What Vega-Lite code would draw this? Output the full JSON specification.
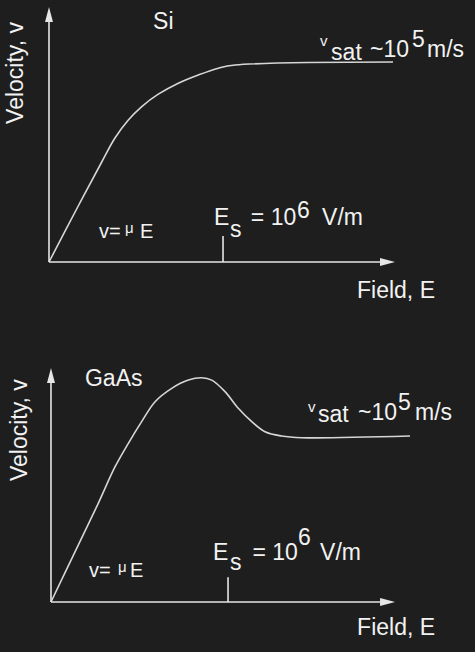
{
  "$schema": "https://vega.github.io/schema/vega-lite/v6.json",
  "background": "#1e1e1e",
  "padding": 0,
  "spacing": 0,
  "config": {"view": {"stroke": null}, "text": {"font": "Liberation Sans", "color": "#f2f2f2"}},
  "datasets": {
    "siCurve": [
      {"E": 0, "v": 0}, {"E": 0.168, "v": 0.28}, {"E": 0.303, "v": 0.5}, {"E": 0.379, "v": 0.62},
      {"E": 0.456, "v": 0.71}, {"E": 0.533, "v": 0.777}, {"E": 0.628, "v": 0.839}, {"E": 0.743, "v": 0.894},
      {"E": 0.858, "v": 0.935}, {"E": 0.973, "v": 0.969}, {"E": 1.069, "v": 0.985}, {"E": 1.977, "v": 1.0}
    ],
    "siAxes": [
      {"x": 0, "y": 0, "x2": 0, "y2": 1.2375},
      {"x": 0, "y": 0, "x2": 1.945, "y2": 0},
      {"x": 1, "y": 0, "x2": 1, "y2": 0.13}
    ],
    "siArrows": [
      {"x": 0, "y": 1.2375, "dir": "up"},
      {"x": 1.945, "y": 0, "dir": "right"}
    ],
    "siText": [
      {"x": 0.598, "y": 1.165, "text": "Si", "kind": "main"},
      {"x": 1.77, "y": -0.18, "text": "Field, E", "kind": "main"},
      {"x": 0.948, "y": 0.185, "text": "E", "kind": "main"},
      {"x": 1.04, "y": 0.125, "text": "s", "kind": "main"},
      {"x": 1.16, "y": 0.185, "text": "= 10", "kind": "main"},
      {"x": 1.425, "y": 0.22, "text": "6", "kind": "main"},
      {"x": 1.569, "y": 0.185, "text": "V/m", "kind": "main"},
      {"x": 1.621, "y": 1.01, "text": "sat", "kind": "main"},
      {"x": 1.845, "y": 1.025, "text": "~10", "kind": "main"},
      {"x": 2.086, "y": 1.075, "text": "5", "kind": "main"},
      {"x": 2.172, "y": 1.025, "text": "m/s", "kind": "main"},
      {"x": 0.287, "y": 0.12, "text": "v=", "kind": "mid"},
      {"x": 0.523, "y": 0.12, "text": "E", "kind": "mid"},
      {"x": 0.437, "y": 0.145, "text": "μ", "kind": "small"},
      {"x": 1.557, "y": 1.08, "text": "v", "kind": "small"},
      {"x": -0.149, "y": 0.945, "text": "Velocity, v", "kind": "rot"}
    ],
    "gaCurve": [
      {"E": 0, "v": 0}, {"E": 0.154, "v": 0.345}, {"E": 0.267, "v": 0.598}, {"E": 0.362, "v": 0.82},
      {"E": 0.437, "v": 0.962}, {"E": 0.512, "v": 1.093}, {"E": 0.588, "v": 1.214}, {"E": 0.682, "v": 1.295},
      {"E": 0.776, "v": 1.345}, {"E": 0.851, "v": 1.359}, {"E": 0.908, "v": 1.345}, {"E": 0.983, "v": 1.275},
      {"E": 1.058, "v": 1.174}, {"E": 1.134, "v": 1.093}, {"E": 1.209, "v": 1.032}, {"E": 1.303, "v": 1.006},
      {"E": 1.416, "v": 0.996}, {"E": 2.028, "v": 1.006}
    ],
    "gaAxes": [
      {"x": 0, "y": 0, "x2": 0, "y2": 1.373},
      {"x": 0, "y": 0, "x2": 1.901, "y2": 0},
      {"x": 1, "y": 0, "x2": 1, "y2": 0.15}
    ],
    "gaArrows": [
      {"x": 0, "y": 1.373, "dir": "up"},
      {"x": 1.901, "y": 0, "dir": "right"}
    ],
    "gaText": [
      {"x": 0.192, "y": 1.309, "text": "GaAs", "kind": "main"},
      {"x": 1.729, "y": -0.2, "text": "Field, E", "kind": "main"},
      {"x": 0.915, "y": 0.255, "text": "E", "kind": "main"},
      {"x": 1.011, "y": 0.194, "text": "s", "kind": "main"},
      {"x": 1.138, "y": 0.255, "text": "= 10", "kind": "main"},
      {"x": 1.395, "y": 0.345, "text": "6", "kind": "main"},
      {"x": 1.52, "y": 0.255, "text": "V/m", "kind": "main"},
      {"x": 1.508, "y": 1.091, "text": "sat", "kind": "main"},
      {"x": 1.734, "y": 1.103, "text": "~10", "kind": "main"},
      {"x": 1.96, "y": 1.164, "text": "5", "kind": "main"},
      {"x": 2.056, "y": 1.103, "text": "m/s", "kind": "main"},
      {"x": 0.215, "y": 0.152, "text": "v=", "kind": "mid"},
      {"x": 0.446, "y": 0.152, "text": "E", "kind": "mid"},
      {"x": 0.379, "y": 0.182, "text": "μ", "kind": "small"},
      {"x": 1.452, "y": 1.152, "text": "v", "kind": "small"},
      {"x": -0.136, "y": 1.042, "text": "Velocity, v", "kind": "rot"}
    ]
  },
  "vconcat": [
    {
      "width": 475,
      "height": 326,
      "layer": [
        {
          "data": {"name": "siCurve"},
          "mark": {"type": "line", "interpolate": "catmull-rom", "color": "#d6d6d6", "strokeWidth": 1.6},
          "encoding": {
            "x": {"field": "E", "type": "quantitative", "scale": {"domain": [-0.2816, 2.448], "nice": false, "zero": false}, "axis": null},
            "y": {"field": "v", "type": "quantitative", "scale": {"domain": [-0.32, 1.31], "nice": false, "zero": false}, "axis": null}
          }
        },
        {
          "data": {"name": "siAxes"},
          "mark": {"type": "rule", "color": "#e6e6e6", "strokeWidth": 1.6},
          "encoding": {
            "x": {"field": "x", "type": "quantitative", "scale": {"domain": [-0.2816, 2.448], "nice": false, "zero": false}, "axis": null},
            "y": {"field": "y", "type": "quantitative", "scale": {"domain": [-0.32, 1.31], "nice": false, "zero": false}, "axis": null},
            "x2": {"field": "x2"},
            "y2": {"field": "y2"}
          }
        },
        {
          "data": {"name": "siArrows"},
          "mark": {"type": "point", "filled": true, "opacity": 1, "color": "#e6e6e6", "size": 225, "strokeWidth": 0},
          "encoding": {
            "x": {"field": "x", "type": "quantitative", "scale": {"domain": [-0.2816, 2.448], "nice": false, "zero": false}, "axis": null},
            "y": {"field": "y", "type": "quantitative", "scale": {"domain": [-0.32, 1.31], "nice": false, "zero": false}, "axis": null},
            "shape": {"field": "dir", "type": "nominal", "scale": {"domain": ["up", "right"], "range": ["M0,-1L0.53,1L-0.53,1Z", "M1,0L-1,-0.53L-1,0.53Z"]}, "legend": null}
          }
        },
        {
          "data": {"name": "siText"},
          "transform": [{"filter": "datum.kind === 'main'"}],
          "mark": {"type": "text", "align": "left", "baseline": "alphabetic", "fontSize": 23},
          "encoding": {
            "x": {"field": "x", "type": "quantitative", "scale": {"domain": [-0.2816, 2.448], "nice": false, "zero": false}, "axis": null},
            "y": {"field": "y", "type": "quantitative", "scale": {"domain": [-0.32, 1.31], "nice": false, "zero": false}, "axis": null},
            "text": {"field": "text"}
          }
        },
        {
          "data": {"name": "siText"},
          "transform": [{"filter": "datum.kind === 'mid'"}],
          "mark": {"type": "text", "align": "left", "baseline": "alphabetic", "fontSize": 20},
          "encoding": {
            "x": {"field": "x", "type": "quantitative", "scale": {"domain": [-0.2816, 2.448], "nice": false, "zero": false}, "axis": null},
            "y": {"field": "y", "type": "quantitative", "scale": {"domain": [-0.32, 1.31], "nice": false, "zero": false}, "axis": null},
            "text": {"field": "text"}
          }
        },
        {
          "data": {"name": "siText"},
          "transform": [{"filter": "datum.kind === 'small'"}],
          "mark": {"type": "text", "align": "left", "baseline": "alphabetic", "fontSize": 15},
          "encoding": {
            "x": {"field": "x", "type": "quantitative", "scale": {"domain": [-0.2816, 2.448], "nice": false, "zero": false}, "axis": null},
            "y": {"field": "y", "type": "quantitative", "scale": {"domain": [-0.32, 1.31], "nice": false, "zero": false}, "axis": null},
            "text": {"field": "text"}
          }
        },
        {
          "data": {"name": "siText"},
          "transform": [{"filter": "datum.kind === 'rot'"}],
          "mark": {"type": "text", "align": "center", "baseline": "alphabetic", "angle": 270, "fontSize": 23},
          "encoding": {
            "x": {"field": "x", "type": "quantitative", "scale": {"domain": [-0.2816, 2.448], "nice": false, "zero": false}, "axis": null},
            "y": {"field": "y", "type": "quantitative", "scale": {"domain": [-0.32, 1.31], "nice": false, "zero": false}, "axis": null},
            "text": {"field": "text"}
          }
        }
      ]
    },
    {
      "width": 475,
      "height": 326,
      "layer": [
        {
          "data": {"name": "gaCurve"},
          "mark": {"type": "line", "interpolate": "catmull-rom", "color": "#d6d6d6", "strokeWidth": 1.6},
          "encoding": {
            "x": {"field": "E", "type": "quantitative", "scale": {"domain": [-0.288, 2.395], "nice": false, "zero": false}, "axis": null},
            "y": {"field": "v", "type": "quantitative", "scale": {"domain": [-0.303, 1.673], "nice": false, "zero": false}, "axis": null}
          }
        },
        {
          "data": {"name": "gaAxes"},
          "mark": {"type": "rule", "color": "#e6e6e6", "strokeWidth": 1.6},
          "encoding": {
            "x": {"field": "x", "type": "quantitative", "scale": {"domain": [-0.288, 2.395], "nice": false, "zero": false}, "axis": null},
            "y": {"field": "y", "type": "quantitative", "scale": {"domain": [-0.303, 1.673], "nice": false, "zero": false}, "axis": null},
            "x2": {"field": "x2"},
            "y2": {"field": "y2"}
          }
        },
        {
          "data": {"name": "gaArrows"},
          "mark": {"type": "point", "filled": true, "opacity": 1, "color": "#e6e6e6", "size": 225, "strokeWidth": 0},
          "encoding": {
            "x": {"field": "x", "type": "quantitative", "scale": {"domain": [-0.288, 2.395], "nice": false, "zero": false}, "axis": null},
            "y": {"field": "y", "type": "quantitative", "scale": {"domain": [-0.303, 1.673], "nice": false, "zero": false}, "axis": null},
            "shape": {"field": "dir", "type": "nominal", "scale": {"domain": ["up", "right"], "range": ["M0,-1L0.53,1L-0.53,1Z", "M1,0L-1,-0.53L-1,0.53Z"]}, "legend": null}
          }
        },
        {
          "data": {"name": "gaText"},
          "transform": [{"filter": "datum.kind === 'main'"}],
          "mark": {"type": "text", "align": "left", "baseline": "alphabetic", "fontSize": 23},
          "encoding": {
            "x": {"field": "x", "type": "quantitative", "scale": {"domain": [-0.288, 2.395], "nice": false, "zero": false}, "axis": null},
            "y": {"field": "y", "type": "quantitative", "scale": {"domain": [-0.303, 1.673], "nice": false, "zero": false}, "axis": null},
            "text": {"field": "text"}
          }
        },
        {
          "data": {"name": "gaText"},
          "transform": [{"filter": "datum.kind === 'mid'"}],
          "mark": {"type": "text", "align": "left", "baseline": "alphabetic", "fontSize": 20},
          "encoding": {
            "x": {"field": "x", "type": "quantitative", "scale": {"domain": [-0.288, 2.395], "nice": false, "zero": false}, "axis": null},
            "y": {"field": "y", "type": "quantitative", "scale": {"domain": [-0.303, 1.673], "nice": false, "zero": false}, "axis": null},
            "text": {"field": "text"}
          }
        },
        {
          "data": {"name": "gaText"},
          "transform": [{"filter": "datum.kind === 'small'"}],
          "mark": {"type": "text", "align": "left", "baseline": "alphabetic", "fontSize": 15},
          "encoding": {
            "x": {"field": "x", "type": "quantitative", "scale": {"domain": [-0.288, 2.395], "nice": false, "zero": false}, "axis": null},
            "y": {"field": "y", "type": "quantitative", "scale": {"domain": [-0.303, 1.673], "nice": false, "zero": false}, "axis": null},
            "text": {"field": "text"}
          }
        },
        {
          "data": {"name": "gaText"},
          "transform": [{"filter": "datum.kind === 'rot'"}],
          "mark": {"type": "text", "align": "center", "baseline": "alphabetic", "angle": 270, "fontSize": 23},
          "encoding": {
            "x": {"field": "x", "type": "quantitative", "scale": {"domain": [-0.288, 2.395], "nice": false, "zero": false}, "axis": null},
            "y": {"field": "y", "type": "quantitative", "scale": {"domain": [-0.303, 1.673], "nice": false, "zero": false}, "axis": null},
            "text": {"field": "text"}
          }
        }
      ]
    }
  ]
}
